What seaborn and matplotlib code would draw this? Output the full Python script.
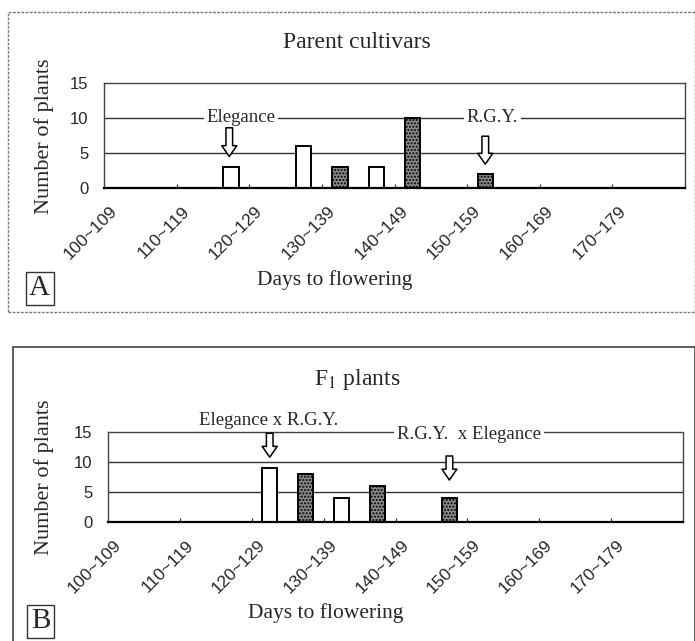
import pandas as pd
import matplotlib.pyplot as plt
import seaborn as sns
from matplotlib.patches import Rectangle

# half-bins of 5 days each (category order on the x axis)
half_bins = ['100', '105', '110', '115', '120', '125', '130', '135',
             '140', '145', '150', '155', '160', '165', '170', '175']
range_labels = ['100~109', '110~119', '120~129', '130~139',
                '140~149', '150~159', '160~169', '170~179']
y_ticks = [0, 5, 10, 15]

# panel A - parent cultivars
parent_bins = ['115', '125', '130', '135', '140', '150']
parent_counts = [3, 6, 3, 3, 10, 2]
parent_type = ['Elegance', 'Elegance', 'R.G.Y.', 'Elegance', 'R.G.Y.', 'R.G.Y.']

# panel B - F1 plants
f1_bins = ['120', '125', '130', '135', '145']
f1_counts = [9, 8, 4, 6, 4]
f1_type = ['Elegance x R.G.Y.', 'R.G.Y. x Elegance', 'Elegance x R.G.Y.',
           'R.G.Y. x Elegance', 'R.G.Y. x Elegance']

W, H = 695, 641
fig = plt.figure(figsize=(W / 100, H / 100), dpi=100)
sns.set_style('white')
plt.rcParams['font.family'] = ['Liberation Serif', 'DejaVu Serif']
plt.rcParams['mathtext.fontset'] = 'stix'
fig.patch.set_facecolor('white')


def px(x, y):
    return x / W, 1 - y / H


def draw_panel(rect, bins, counts, types, white_type):
    ax = fig.add_axes(rect)
    df = pd.DataFrame({'bin': bins, 'count': counts, 'type': types})
    df['fill'] = ['open' if t == white_type else 'dark' for t in types]
    sns.barplot(data=df, x='bin', y='count', hue='fill', order=half_bins,
                hue_order=['open', 'dark'], palette={'open': 'white', 'dark': '#8a8a8a'},
                dodge=False, width=0.42, edgecolor='black', linewidth=1.4,
                legend=False, ax=ax)
    for p in ax.patches:
        if p.get_facecolor()[0] < 0.9:
            p.set_hatch('.....')
    ax.set_xlim(-0.5, 15.5)
    ax.set_ylim(0, 15)
    ax.set_yticks(y_ticks)
    ax.set_yticklabels([str(v) for v in y_ticks], family='Liberation Sans', fontsize=12)
    ax.tick_params(axis='y', length=0, pad=11)
    # tick marks on the 10-day boundaries, labels a little to the right of them
    ax.set_xticks([-0.5 + 2 * k for k in range(9)], minor=True)
    ax.set_xticks([-0.2 + 2 * k for k in range(8)])
    ax.set_xticklabels(range_labels, rotation=45, ha='right', va='center',
                       rotation_mode='anchor', family='Liberation Sans', fontsize=12.5)
    ax.tick_params(axis='x', which='major', length=0, pad=15)
    ax.tick_params(axis='x', which='minor', direction='in', length=3, width=0.8, bottom=True)
    for v in [5, 10]:
        ax.axhline(v, color='#333333', lw=1, zorder=0)
    for side in ['top', 'right', 'left']:
        ax.spines[side].set_visible(True)
        ax.spines[side].set_color('#444444')
        ax.spines[side].set_linestyle((0, (2, 1)))
        ax.spines[side].set_linewidth(1)
    ax.spines['bottom'].set_color('black')
    ax.spines['bottom'].set_linewidth(1.6)
    ax.set_xlabel('')
    ax.set_ylabel('')
    return ax


def hollow_arrow(ax, x, y0, y1):
    ax.annotate('', xy=(x, y1), xytext=(x, y0), annotation_clip=False,
                arrowprops=dict(arrowstyle='simple,head_width=0.9,head_length=0.65,tail_width=0.4',
                                fc='white', ec='black', lw=1.1, shrinkA=0, shrinkB=0,
                                mutation_scale=12))


def label_box(x, y, s):
    fig.text(*px(x, y), s, fontsize=21, ha='center', va='center',
             bbox=dict(boxstyle='square,pad=0.12', fc='white', ec='#333333', lw=1))


# outer frames of the two panels
fig.add_artist(Rectangle(px(8, 312), (W - 8) / W, 300 / H, transform=fig.transFigure,
                         fill=False, ec='#777777', lw=1, ls=(0, (2, 1))))
fig.add_artist(Rectangle(px(13, 650), (W - 13) / W, 303 / H, transform=fig.transFigure,
                         fill=False, ec='#444444', lw=1.2))

# panel A
axA = draw_panel([104 / W, 1 - 188 / H, 581 / W, 105 / H],
                 parent_bins, parent_counts, parent_type, 'Elegance')
axA.text(3.27, 10, 'Elegance', ha='center', va='center', fontsize=13.5,
         bbox=dict(fc='white', ec='none', pad=2))
axA.text(10.19, 10, 'R.G.Y.', ha='center', va='center', fontsize=13.5,
         bbox=dict(fc='white', ec='none', pad=2))
hollow_arrow(axA, 2.95, 8.6, 4.5)
hollow_arrow(axA, 10.0, 7.4, 3.4)
fig.text(*px(357, 43), 'Parent cultivars', ha='center', va='center', fontsize=17)
fig.text(*px(44, 136), 'Number of plants', ha='center', va='center', rotation=90, fontsize=16)
fig.text(*px(335, 280), 'Days to flowering', ha='center', va='center', fontsize=15.5)
label_box(39.5, 288, 'A')

# panel B
axB = draw_panel([108 / W, 1 - 522 / H, 575 / W, 90 / H],
                 f1_bins, f1_counts, f1_type, 'Elegance x R.G.Y.')
axB.text(3.98, 16.9, 'Elegance x R.G.Y.', ha='center', va='center', fontsize=13.5,
         clip_on=False)
axB.text(9.54, 14.6, 'R.G.Y.  x Elegance', ha='center', va='center', fontsize=13.5,
         bbox=dict(fc='white', ec='none', pad=2), clip_on=False)
hollow_arrow(axB, 4.0, 14.8, 10.8)
hollow_arrow(axB, 9.0, 11.0, 7.0)
fig.text(*px(357, 379), 'F$_1$ plants', ha='center', va='center', fontsize=17)
fig.text(*px(44, 477), 'Number of plants', ha='center', va='center', rotation=90, fontsize=16)
fig.text(*px(326, 613), 'Days to flowering', ha='center', va='center', fontsize=15.5)
label_box(40.5, 621, 'B')

fig.savefig('out.png', dpi=100, facecolor='white')
